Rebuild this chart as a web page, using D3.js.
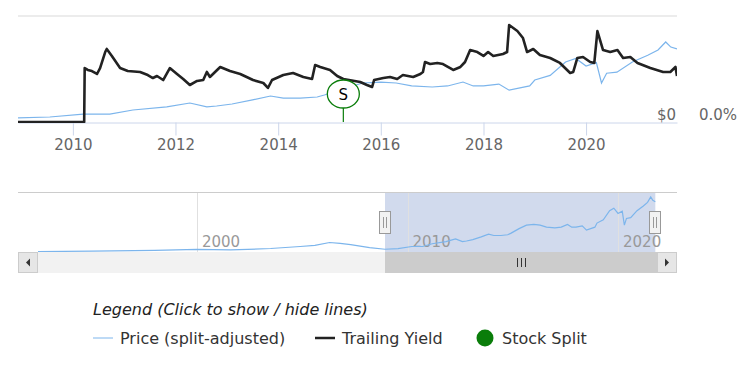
<!DOCTYPE html>
<html>
<head>
<meta charset="utf-8">
<script src="https://cdn.jsdelivr.net/npm/d3@7"></script>
<style>
  body { margin: 0; background: #fff; }
  svg { display: block; font-family: "DejaVu Sans", "Lucida Grande", sans-serif; }
</style>
</head>
<body>
<svg id="chart" width="750" height="376"></svg>
<script>
// decimal year, price in $ (split-adjusted)
const priceSeries = [
  [1992.45, 0.5], [1995.0, 1.2], [1998.0, 2.2], [2000.0, 3.5], [2001.6, 2.8],
  [2003.5, 4.8], [2004.9, 7.5], [2005.6, 9.0], [2006.3, 13.0], [2006.8, 11.8],
  [2007.3, 10.0], [2008.2, 6.0], [2008.93, 3.8], [2009.55, 4.7], [2010.2, 7.5],
  [2010.72, 7.5], [2011.17, 11.3], [2011.83, 14.2], [2012.28, 17.9], [2012.61, 14.2],
  [2012.8, 15.1], [2013.1, 17.0], [2013.5, 20.8], [2013.85, 24.5], [2014.1, 22.6],
  [2014.43, 22.6], [2014.76, 23.6], [2014.9, 25.5], [2015.3, 32.0], [2015.65, 36.8],
  [2016.0, 37.7], [2016.3, 36.8], [2016.6, 34.0], [2017.0, 33.0], [2017.3, 34.0],
  [2017.6, 37.7], [2017.8, 34.0], [2018.0, 34.0], [2018.3, 35.8], [2018.5, 30.0],
  [2018.9, 34.0], [2019.0, 39.6], [2019.3, 44.0], [2019.6, 56.6], [2019.8, 60.0],
  [2020.0, 52.8], [2020.2, 56.0], [2020.3, 36.8], [2020.4, 46.0], [2020.6, 47.0],
  [2020.9, 56.6], [2021.2, 63.0], [2021.4, 68.0], [2021.55, 75.5], [2021.65, 70.7],
  [2021.77, 68.9]
];

// decimal year, trailing yield in %
const yieldSeries = [
  [2008.93, 0], [2010.22, 0], [2010.23, 5.09], [2010.29, 4.91], [2010.37, 4.81],
  [2010.47, 4.53], [2010.53, 5.09], [2010.63, 6.60], [2010.66, 6.89], [2010.76, 6.23],
  [2010.92, 5.09], [2011.07, 4.81], [2011.31, 4.72], [2011.46, 4.43], [2011.56, 4.15],
  [2011.64, 4.34], [2011.76, 3.96], [2011.89, 5.09], [2012.03, 4.53], [2012.15, 4.06],
  [2012.28, 3.49], [2012.42, 3.87], [2012.54, 3.96], [2012.61, 4.72], [2012.67, 4.25],
  [2012.87, 5.19], [2013.06, 4.81], [2013.26, 4.53], [2013.51, 3.96], [2013.71, 3.68],
  [2013.80, 3.21], [2013.88, 3.96], [2014.10, 4.43], [2014.29, 4.62], [2014.49, 4.25],
  [2014.66, 4.06], [2014.72, 5.38], [2014.82, 5.19], [2015.01, 4.91], [2015.15, 4.34],
  [2015.27, 4.06], [2015.60, 3.77], [2015.73, 3.49], [2015.83, 3.30], [2015.87, 3.96],
  [2016.05, 4.15], [2016.18, 4.25], [2016.32, 4.06], [2016.43, 4.43], [2016.63, 4.25],
  [2016.77, 4.53], [2016.82, 4.72], [2016.86, 5.66], [2016.96, 5.47], [2017.10, 5.57],
  [2017.21, 5.47], [2017.41, 4.91], [2017.55, 5.19], [2017.64, 5.66], [2017.74, 6.79],
  [2017.88, 6.60], [2018.00, 6.23], [2018.09, 6.60], [2018.19, 6.23], [2018.38, 6.42],
  [2018.46, 6.60], [2018.50, 9.15], [2018.66, 8.58], [2018.77, 7.92], [2018.85, 6.60],
  [2018.97, 6.89], [2019.10, 6.32], [2019.30, 6.04], [2019.49, 5.57], [2019.69, 4.62],
  [2019.75, 4.72], [2019.83, 6.04], [2019.94, 6.13], [2020.08, 5.66], [2020.16, 5.57],
  [2020.22, 8.58], [2020.33, 6.79], [2020.47, 6.60], [2020.61, 6.79], [2020.72, 6.04],
  [2020.86, 6.13], [2021.00, 5.57], [2021.25, 5.09], [2021.50, 4.72], [2021.64, 4.72],
  [2021.74, 5.19], [2021.77, 4.34]
];

const splitDates = [2015.27];
const splitLabels = ['S'];

const viewRange = [2008.93, 2021.77];   // zoomed window
const navRange = [1991.5, 2022.8];      // navigator full range
const priceTicks = [0];
const yieldTicks = [0];

const legendItems = [
  { label: 'Price (split-adjusted)', type: 'line', color: '#7cb5ec', width: 1 },
  { label: 'Trailing Yield', type: 'line', color: '#222', width: 2.5 },
  { label: 'Stock Split', type: 'dot', color: '#0a7d0a' }
];

const FONT = '"DejaVu Sans", "Lucida Grande", sans-serif';

function toDate(y)
{
  const yr = Math.floor(y);
  const a = new Date(yr, 0, 1), b = new Date(yr + 1, 0, 1);
  return new Date(+a + (y - yr) * (b - a));
}

const margin = { left: 18, right: 677, top: 16, bottom: 122 };
const nav = { top: 193, bottom: 252, sbBottom: 273 };

const svg = d3.select('#chart');

const x = d3.scaleTime()
  .domain(viewRange.map(toDate))
  .range([margin.left, margin.right]);

const yPrice = d3.scaleLinear().domain([0, 100]).range([margin.bottom, margin.top]);
const yYield = d3.scaleLinear().domain([0, 10]).range([margin.bottom, margin.top]);

const defs = svg.append('defs');
defs.append('clipPath').attr('id', 'mainClip')
  .append('rect')
  .attr('x', margin.left).attr('y', 0)
  .attr('width', margin.right - margin.left).attr('height', margin.bottom + 1);
defs.append('clipPath').attr('id', 'navClip')
  .append('rect')
  .attr('x', margin.left).attr('y', nav.top)
  .attr('width', margin.right - margin.left).attr('height', nav.bottom - nav.top);

// top grid line
svg.append('line')
  .attr('x1', margin.left).attr('x2', margin.right)
  .attr('y1', margin.top).attr('y2', margin.top)
  .attr('stroke', '#e6e6e6').attr('stroke-width', 1.5);

// x axis
const xAxis = d3.axisBottom(x)
  .ticks(d3.timeYear.every(2))
  .tickFormat(d3.timeFormat('%Y'))
  .tickSize(13).tickSizeOuter(0).tickPadding(4);

const gx = svg.append('g')
  .attr('transform', `translate(0,${margin.bottom + 0.5})`)
  .call(xAxis)
  .attr('font-family', FONT).attr('font-size', 15);
gx.select('.domain').attr('stroke', '#ccd6eb');
gx.selectAll('.tick line').attr('stroke', '#ccd6eb');
gx.selectAll('.tick text').attr('fill', '#666');

// y axis labels
const gyP = svg.append('g')
  .attr('transform', `translate(${margin.right - 1},0)`)
  .call(d3.axisLeft(yPrice).tickValues(priceTicks).tickSize(0).tickPadding(0)
    .tickFormat(d => '$' + d));
const gyY = svg.append('g')
  .attr('transform', `translate(${margin.right},0)`)
  .call(d3.axisRight(yYield).tickValues(yieldTicks).tickSize(0).tickPadding(22)
    .tickFormat(d => d3.format('.1f')(d) + '%'));
[gyP, gyY].forEach(g => {
  g.attr('font-family', FONT).attr('font-size', 15);
  g.select('.domain').remove();
  g.selectAll('text').attr('fill', '#666').attr('dy', '-0.2em');
});

// series
const plot = svg.append('g').attr('clip-path', 'url(#mainClip)');

const priceLine = d3.line()
  .x(d => x(toDate(d[0])))
  .y(d => yPrice(d[1]));
const yieldLine = d3.line()
  .x(d => x(toDate(d[0])))
  .y(d => yYield(d[1]));

plot.append('path')
  .datum(priceSeries)
  .attr('d', priceLine)
  .attr('fill', 'none').attr('stroke', '#7cb5ec').attr('stroke-width', 1.2);

plot.append('path')
  .datum(yieldSeries)
  .attr('d', yieldLine)
  .attr('fill', 'none').attr('stroke', '#222').attr('stroke-width', 2.6)
  .attr('stroke-linejoin', 'round');

// split flags
const flags = svg.selectAll('.flag').data(splitDates).enter()
  .append('g').attr('class', 'flag')
  .attr('transform', d => `translate(${x(toDate(d))},0)`);
flags.append('line')
  .attr('y1', 108).attr('y2', margin.bottom)
  .attr('stroke', '#0a7d0a').attr('stroke-width', 1.2);
flags.append('ellipse')
  .attr('cy', 94).attr('rx', 16).attr('ry', 14)
  .attr('fill', '#fff').attr('stroke', '#0a7d0a').attr('stroke-width', 1.3);
flags.append('text')
  .attr('y', 99.5).attr('text-anchor', 'middle')
  .attr('font-size', 15).attr('fill', '#000')
  .text((d, i) => splitLabels[i]);

// navigator
const xNav = d3.scaleTime()
  .domain(navRange.map(toDate))
  .range([margin.left, margin.right]);
const yNav = d3.scaleLinear()
  .domain([0, d3.max(priceSeries, d => d[1]) * 1.07])
  .range([nav.bottom, nav.top]);

const navG = svg.append('g');

const selX0 = xNav(toDate(viewRange[0]));
const selX1 = xNav(toDate(viewRange[1]));

navG.append('rect')
  .attr('x', selX0).attr('y', nav.top)
  .attr('width', selX1 - selX0).attr('height', nav.bottom - nav.top)
  .attr('fill', 'rgba(102,133,194,0.3)');

const navTicks = xNav.ticks(d3.timeYear.every(10));
navG.selectAll('.navgrid').data(navTicks).enter()
  .append('line')
  .attr('x1', d => Math.round(xNav(d)) + 0.5).attr('x2', d => Math.round(xNav(d)) + 0.5)
  .attr('y1', nav.top).attr('y2', nav.bottom)
  .attr('stroke', '#e0e0e0').attr('stroke-width', 1);

navG.selectAll('.navlabel').data(navTicks).enter()
  .append('text')
  .attr('x', d => xNav(d) + 5).attr('y', 247)
  .attr('fill', '#999').attr('font-size', 15)
  .text(d3.timeFormat('%Y'));

navG.append('path')
  .datum(priceSeries)
  .attr('clip-path', 'url(#navClip)')
  .attr('d', d3.line().x(d => xNav(toDate(d[0]))).y(d => yNav(d[1])))
  .attr('fill', 'none').attr('stroke', '#7cb5ec').attr('stroke-width', 1.2);

navG.append('line')
  .attr('x1', margin.left).attr('x2', margin.right)
  .attr('y1', nav.top - 0.5).attr('y2', nav.top - 0.5)
  .attr('stroke', '#ccc');

// scrollbar
const sb = svg.append('g');
sb.append('rect')
  .attr('x', margin.left).attr('y', nav.bottom)
  .attr('width', margin.right - margin.left).attr('height', nav.sbBottom - nav.bottom)
  .attr('fill', '#f2f2f2');
sb.append('rect')
  .attr('x', selX0).attr('y', nav.bottom)
  .attr('width', margin.right - 20 - selX0).attr('height', nav.sbBottom - nav.bottom)
  .attr('fill', '#ccc');
const midThumb = (selX0 + margin.right - 20) / 2;
[-4, 0, 4].forEach(dx => {
  sb.append('line')
    .attr('x1', midThumb + dx + 0.5).attr('x2', midThumb + dx + 0.5)
    .attr('y1', 258).attr('y2', 267)
    .attr('stroke', '#333');
});
[[margin.left, -1], [margin.right - 20, 1]].forEach(([bx, dir]) => {
  sb.append('rect')
    .attr('x', bx + 0.5).attr('y', nav.bottom + 0.5)
    .attr('width', 19).attr('height', nav.sbBottom - nav.bottom - 1)
    .attr('fill', '#e6e6e6').attr('stroke', '#ccc');
  const cx = bx + 10, cy = (nav.bottom + nav.sbBottom) / 2;
  sb.append('path')
    .attr('d', `M${cx + dir * 2},${cy} L${cx - dir * 2},${cy - 4} L${cx - dir * 2},${cy + 4} Z`)
    .attr('fill', '#333');
});

// navigator handles
[selX0, selX1].forEach(hx => {
  const hg = svg.append('g').attr('transform', `translate(${Math.round(hx)},211)`);
  hg.append('rect')
    .attr('x', -5.5).attr('y', 0.5).attr('width', 11).attr('height', 22)
    .attr('fill', '#f2f2f2').attr('stroke', '#999');
  [-1.5, 1.5].forEach(dx => {
    hg.append('line')
      .attr('x1', dx).attr('x2', dx).attr('y1', 6).attr('y2', 17)
      .attr('stroke', '#999');
  });
});

// legend
const legend = svg.append('g');
legend.append('text')
  .attr('x', 93).attr('y', 315)
  .attr('font-size', 16).attr('font-style', 'italic').attr('fill', '#222')
  .text('Legend (Click to show / hide lines)');

const legendX = [93, 315, 477];
legendItems.forEach((item, i) => {
  const g = legend.append('g').attr('transform', `translate(${legendX[i]},338)`);
  if (item.type === 'line') {
    g.append('line')
      .attr('x1', 0).attr('x2', 20)
      .attr('stroke', item.color).attr('stroke-width', item.width);
    g.append('text')
      .attr('x', 27).attr('y', 5.5)
      .attr('font-size', 16).attr('fill', '#333')
      .text(item.label);
  } else {
    g.append('circle')
      .attr('cx', 8).attr('r', 8.5).attr('fill', item.color);
    g.append('text')
      .attr('x', 25).attr('y', 5.5)
      .attr('font-size', 16).attr('fill', '#333')
      .text(item.label);
  }
});
</script>
</body>
</html>
